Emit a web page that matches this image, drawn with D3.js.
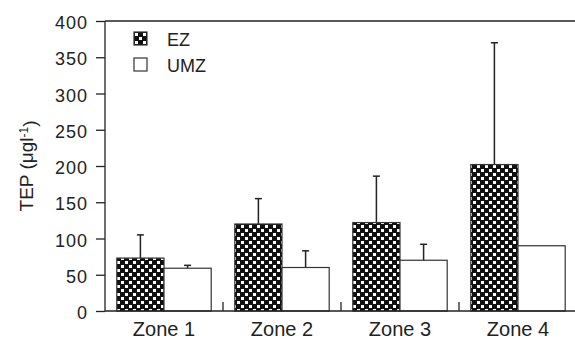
<!DOCTYPE html>
<html>
<head>
<style>
	body { margin: 0; background: #fff; }
	text { font-family: "Liberation Sans", Arial, sans-serif; fill: #222; }
	.axis path, .axis line { stroke: #222; stroke-width: 1.3px; fill: none; }
	.bar { stroke: #333; stroke-width: 1.2px; }
	.err { stroke: #222; stroke-width: 1.5px; }
</style>
<script src="https://d3js.org/d3.v7.min.js"></script>
</head>
<body>
<script>
	// values
	var zones    = ["Zone 1", "Zone 2", "Zone 3", "Zone 4"];
	var series   = ["EZ", "UMZ"];
	var ezMean   = [73, 120, 122, 202];
	var ezErr    = [32, 35, 64, 168];
	var umzMean  = [59, 60, 70, 90];
	var umzErr   = [4, 23, 22, 0];
	var yTicks   = [0, 50, 100, 150, 200, 250, 300, 350, 400];

	var width = 575, height = 340;
	var plotL = 105, plotR = 577, plotT = 21, plotB = 311;

	var svg = d3.select("body").append("svg")
		.attr("width", width)
		.attr("height", height);

	// checker pattern for EZ
	var pat = svg.append("defs").append("pattern")
		.attr("id", "checker")
		.attr("patternUnits", "userSpaceOnUse")
		.attr("width", 8).attr("height", 8);
	pat.append("rect").attr("width", 8).attr("height", 8).attr("fill", "#111");
	pat.append("rect").attr("x", 1).attr("y", 1).attr("width", 3).attr("height", 3).attr("fill", "#fff");
	pat.append("rect").attr("x", 5).attr("y", 5).attr("width", 3).attr("height", 3).attr("fill", "#fff");

	var x = d3.scaleBand()
		.domain(zones)
		.range([plotL, plotR])
		.paddingInner(0.2)
		.paddingOuter(0.1);

	var x1 = d3.scaleBand()
		.domain(series)
		.range([0, x.bandwidth()]);

	var y = d3.scaleLinear()
		.domain([0, 400])
		.range([plotB, plotT]);

	var data = [];
	zones.forEach(function(z, i){
		data.push({zone: z, s: "EZ", v: ezMean[i], e: ezErr[i]});
		data.push({zone: z, s: "UMZ", v: umzMean[i], e: umzErr[i]});
	});

	function cx(d){ return x(d.zone) + x1(d.s) + x1.bandwidth() / 2; }

	// error bars (drawn under bars)
	var errs = svg.append("g").selectAll("g")
		.data(data.filter(function(d){ return d.e > 0; }))
		.enter().append("g");
	errs.append("line")
		.attr("class", "err")
		.attr("x1", cx).attr("x2", cx)
		.attr("y1", function(d){ return y(d.v); })
		.attr("y2", function(d){ return y(d.v + d.e); });
	errs.append("line")
		.attr("class", "err")
		.attr("x1", function(d){ return cx(d) - 3.5; })
		.attr("x2", function(d){ return cx(d) + 3.5; })
		.attr("y1", function(d){ return y(d.v + d.e); })
		.attr("y2", function(d){ return y(d.v + d.e); });

	svg.append("g").selectAll("rect")
		.data(data)
		.enter().append("rect")
		.attr("class", "bar")
		.attr("x", function(d){ return x(d.zone) + x1(d.s); })
		.attr("y", function(d){ return y(d.v); })
		.attr("width", x1.bandwidth())
		.attr("height", function(d){ return y(0) - y(d.v); })
		.attr("fill", function(d){ return d.s === "EZ" ? "url(#checker)" : "#fff"; });

	// y axis
	var yAxis = d3.axisLeft(y).tickValues(yTicks).tickSize(9).tickPadding(8);
	var gy = svg.append("g")
		.attr("class", "y axis")
		.attr("transform", "translate(" + plotL + ",0)")
		.call(yAxis);
	gy.select(".domain").remove();
	gy.append("line").attr("x1", 0).attr("x2", 0).attr("y1", plotT).attr("y2", plotB);
	gy.selectAll("text")
		.style("font-size", "18px")
		.style("letter-spacing", "1px")
		.attr("dy", "0.42em");

	// top frame line
	svg.append("line")
		.attr("x1", plotL).attr("x2", width).attr("y1", plotT).attr("y2", plotT)
		.style("stroke", "#222").style("stroke-width", "1.3px");

	// x axis with ticks between categories
	var gx = svg.append("g").attr("class", "x axis");
	gx.append("line")
		.attr("x1", plotL).attr("x2", width)
		.attr("y1", plotB).attr("y2", plotB);
	gx.selectAll(".sep")
		.data(zones.slice(1))
		.enter().append("line")
		.attr("class", "sep")
		.attr("x1", function(z){ return x(z) - x.step() * x.paddingInner() / 2; })
		.attr("x2", function(z){ return x(z) - x.step() * x.paddingInner() / 2; })
		.attr("y1", plotB).attr("y2", plotB - 9);
	gx.selectAll(".lab")
		.data(zones)
		.enter().append("text")
		.attr("x", function(z){ return x(z) + x.bandwidth() / 2; })
		.attr("y", 336)
		.attr("text-anchor", "middle")
		.style("font-size", "20px")
		.text(function(z){ return z; });

	// y label
	var yl = svg.append("text")
		.attr("transform", "translate(33," + ((plotT + plotB) / 2) + ") rotate(-90)")
		.attr("text-anchor", "middle")
		.style("font-size", "19px");
	yl.append("tspan").text("TEP (\u03bcgl");
	yl.append("tspan").attr("dy", "-0.45em").style("font-size", "12px").text("-1");
	yl.append("tspan").attr("dy", "0.45em").text(")");

	// legend
	var leg = svg.append("g").selectAll("g")
		.data(series)
		.enter().append("g")
		.attr("transform", function(d, i){ return "translate(134," + (32 + i * 26) + ")"; });
	leg.append("rect")
		.attr("width", 13).attr("height", 13)
		.attr("fill", function(d){ return d === "EZ" ? "url(#checker)" : "#fff"; })
		.attr("stroke", "#333").attr("stroke-width", 1.2);
	leg.append("text")
		.attr("x", 33).attr("y", 13.5)
		.style("font-size", "18px")
		.text(function(d){ return d; });
</script>
</body>
</html>
